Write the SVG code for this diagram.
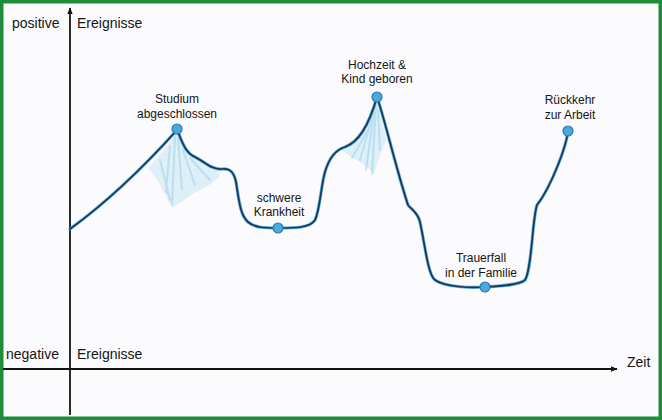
<svg xmlns="http://www.w3.org/2000/svg" width="662" height="420" viewBox="0 0 662 420">
<style>
.lbl{font-family:"Liberation Sans","DejaVu Sans",sans-serif;font-size:12px;fill:#151515;text-anchor:middle}
.ax{font-family:"Liberation Sans","DejaVu Sans",sans-serif;font-size:14px;fill:#151515}
.axis{stroke:#141414;stroke-width:1.8;fill:none}
.dot{fill:#4aa9dd;stroke:#2a7cb3;stroke-width:1.2}
.shade{fill:#b4deef;opacity:0.4}
.streak{stroke:#8fcde6;stroke-width:2;fill:none;opacity:0.45;stroke-linecap:round}
</style>
<defs>
<marker id="arr" viewBox="0 0 10 10" refX="9" refY="5" markerWidth="7" markerHeight="7" orient="auto-start-reverse" markerUnits="userSpaceOnUse">
<path d="M0,1 L10,5 L0,9 Z" fill="#141414"/>
</marker>
</defs>
<rect x="0" y="0" width="662" height="420" fill="#fbfbfd"/>
<rect x="1.75" y="1.75" width="658.5" height="416.5" fill="none" stroke="#1f8b3b" stroke-width="3.5"/>

<g id="shading">
<path class="shade" d="M148,168 C158,158 168,145 177,132 C184,148 192,158 205,162 C212,166 218,170 220,176 C214,182 206,188 196,192 C186,198 178,205 172,208 C166,196 160,182 148,168 Z"/>
<path class="streak" d="M175,136 L172,204 M178,138 L182,190 M170,146 L166,192 M183,150 L195,185 M160,160 L170,200 M190,158 L210,180"/>
<path class="shade" d="M342,150 C356,144 368,132 377,102 C380,115 384,128 386,140 C382,150 378,160 374,174 C368,168 362,162 356,160 C350,156 346,153 342,150 Z"/>
<path class="streak" d="M376,106 L372,174 M378,110 L380,150 M372,118 L360,160 M374,112 L366,170 M368,130 L352,158"/>
</g>

<g id="connectors">
<line class="axis" x1="70" y1="415" x2="70" y2="8" marker-end="url(#arr)"/>
<line class="axis" x1="3" y1="369" x2="617" y2="369" marker-end="url(#arr)"/>
<path id="curve-glow" d="M70,229 C110,200 150,160 177,130 C182,140 184,152 195,157 C205,162 212,170 222,169 C230,168 234,172 236,182 C239,200 240,215 248,222 C255,228 265,228 278,228 C295,228 310,228 315,220 C320,210 321,185 325,172 C329,158 335,150 345,147 C358,142 368,128 377,97 C385,120 395,165 408,205 C412,210 418,213 420,222 C425,245 428,275 435,280 C445,287 470,288 485,287 C500,286 520,285 525,280 C532,270 532,220 537,205 C545,195 552,180 558,165 C564,150 567,140 568,131" fill="none" stroke="#3d9bd2" stroke-width="3.2" stroke-linecap="round" opacity="0.8"/>
<path id="curve" d="M70,229 C110,200 150,160 177,130 C182,140 184,152 195,157 C205,162 212,170 222,169 C230,168 234,172 236,182 C239,200 240,215 248,222 C255,228 265,228 278,228 C295,228 310,228 315,220 C320,210 321,185 325,172 C329,158 335,150 345,147 C358,142 368,128 377,97 C385,120 395,165 408,205 C412,210 418,213 420,222 C425,245 428,275 435,280 C445,287 470,288 485,287 C500,286 520,285 525,280 C532,270 532,220 537,205 C545,195 552,180 558,165 C564,150 567,140 568,131" fill="none" stroke="#16365a" stroke-width="1.7" stroke-linecap="round"/>
</g>

<g id="axis-labels">
<text class="ax" x="12" y="28">positive</text>
<text class="ax" x="77" y="28">Ereignisse</text>
<text class="ax" x="6" y="359">negative</text>
<text class="ax" x="77" y="359">Ereignisse</text>
<text class="ax" x="627" y="367">Zeit</text>
</g>

<g id="n-studium">
<circle class="dot" cx="177" cy="129" r="5"/>
<text class="lbl" x="177" y="103">Studium</text>
<text class="lbl" x="177" y="118">abgeschlossen</text>
</g>
<g id="n-krankheit">
<circle class="dot" cx="278" cy="228" r="5"/>
<text class="lbl" x="279" y="202">schwere</text>
<text class="lbl" x="279" y="216">Krankheit</text>
</g>
<g id="n-hochzeit">
<circle class="dot" cx="377" cy="97" r="5"/>
<text class="lbl" x="377" y="69">Hochzeit &amp;</text>
<text class="lbl" x="377" y="83">Kind geboren</text>
</g>
<g id="n-trauerfall">
<circle class="dot" cx="485" cy="287" r="5"/>
<text class="lbl" x="481" y="262">Trauerfall</text>
<text class="lbl" x="481" y="277">in der Familie</text>
</g>
<g id="n-rueckkehr">
<circle class="dot" cx="568" cy="131" r="5"/>
<text class="lbl" x="570" y="104">Rückkehr</text>
<text class="lbl" x="570" y="119">zur Arbeit</text>
</g>
</svg>
